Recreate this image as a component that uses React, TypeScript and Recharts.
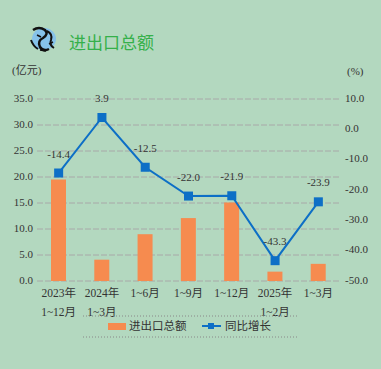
import React from "react";
import { ComposedChart, Bar, Line, XAxis, YAxis, CartesianGrid, LabelList } from "recharts";

const categories = ["2023年\n1~12月", "2024年\n1~3月", "1~6月", "1~9月", "1~12月", "2025年\n1~2月", "1~3月"];
const totalValues = [19.5, 4.1, 9.0, 12.1, 15.1, 1.8, 3.3];
const growthValues = [-14.4, 3.9, -12.5, -22.0, -21.9, -43.3, -23.9];
const leftTicks = [0, 5, 10, 15, 20, 25, 30, 35];
const rightTicks = [-50, -40, -30, -20, -10, 0, 10];

const data = categories.map((c, i) => ({ name: c, total: totalValues[i], growth: growthValues[i] }));

const BG = "#b3d8bf";
const BAR = "#f68b4f";
const LINE = "#0d6fc6";
const FONT = "Liberation Serif, Noto Sans CJK SC, serif";
const TXT = "#333";

const XTick = (props: any) => {
  const { x, y, payload } = props;
  const lines = String(payload.value).split("\n");
  return (
    <g>
      {lines.map((l: string, i: number) => (
        <text key={i} x={x} y={y + 5 + i * 19} textAnchor="middle" dominantBaseline="middle" fontSize={11.5} fill={TXT} fontFamily={FONT}>
          {l}
        </text>
      ))}
    </g>
  );
};

const LeftTick = (props: any) => {
  const { y, payload } = props;
  return (
    <text x={33} y={y} textAnchor="end" dominantBaseline="middle" fontSize={11} fill={TXT} fontFamily={FONT}>
      {Number(payload.value).toFixed(1)}
    </text>
  );
};

const RightTick = (props: any) => {
  const { y, payload } = props;
  return (
    <text x={345} y={y} textAnchor="start" dominantBaseline="middle" fontSize={11} fill={TXT} fontFamily={FONT}>
      {Number(payload.value).toFixed(1)}
    </text>
  );
};

const SquareDot = (props: any) => {
  const { cx, cy, index } = props;
  if (cx == null || cy == null) return <g key={index} />;
  return <rect key={index} x={cx - 4.5} y={cy - 4.5} width={9} height={9} fill={LINE} />;
};

const GrowthLabel = (props: any) => {
  const { x, y, value } = props;
  return (
    <text x={x} y={y - 18} textAnchor="middle" dominantBaseline="middle" fontSize={11} fill={TXT} fontFamily={FONT}>
      {Number(value).toFixed(1)}
    </text>
  );
};

export default function App() {
  return (
    <div style={{ position: "fixed", left: 0, top: 0, width: 381, height: 369, background: BG, overflow: "hidden" }}>
      <ComposedChart width={381} height={369} data={data} margin={{ top: 99, right: 0, bottom: 48, left: 0 }}>
        <CartesianGrid horizontal vertical={false} stroke="#a8a8a8" strokeDasharray="6 2" yAxisId="left" />
        <XAxis dataKey="name" tick={<XTick />} tickLine={false} axisLine={false} interval={0} height={40} />
        <YAxis yAxisId="left" orientation="left" width={37} domain={[0, 35]} ticks={leftTicks} tick={<LeftTick />} tickLine={false} axisLine={false} />
        <YAxis yAxisId="right" orientation="right" width={41} domain={[-50, 10]} ticks={rightTicks} tick={<RightTick />} tickLine={false} axisLine={false} />
        <Bar yAxisId="left" dataKey="total" fill={BAR} barSize={15} isAnimationActive={false} />
        <Line yAxisId="right" dataKey="growth" stroke={LINE} strokeWidth={2} dot={<SquareDot />} activeDot={false} isAnimationActive={false}>
          <LabelList dataKey="growth" content={<GrowthLabel />} />
        </Line>
      </ComposedChart>
      <svg width={381} height={369} style={{ position: "absolute", left: 0, top: 0, pointerEvents: "none" }}>
        <g>
          <ellipse cx={44} cy={39} rx={12} ry={11} fill="#86c2ea" />
          <path d="M33 30 q6 -4 12 0 q4 4 -2 8 q-6 3 -3 9 q3 5 9 2" stroke="#111" strokeWidth={2.5} fill="none" />
          <path d="M47 31 q6 3 4 9 q-2 5 3 8" stroke="#111" strokeWidth={2} fill="none" />
          <path d="M31 40 q2 6 7 9" stroke="#111" strokeWidth={2} fill="none" />
          <path d="M37 35 l4 2 M49 44 l4 -2 M40 50 l6 1" stroke="#111" strokeWidth={1.5} fill="none" />
        </g>
        <text x={69} y={44} dominantBaseline="middle" fontSize={17} fill="#35b04a" fontFamily="Noto Sans CJK SC, sans-serif">
          进出口总额
        </text>
        <text x={12} y={71} dominantBaseline="middle" fontSize={11} fill={TXT} fontFamily={FONT}>
          (亿元)
        </text>
        <text x={347} y={72} dominantBaseline="middle" fontSize={11} fill={TXT} fontFamily={FONT}>
          (%)
        </text>
        <line x1={83} x2={297} y1={316} y2={316} stroke="#888" strokeDasharray="1 2" />
        <line x1={83} x2={297} y1={337} y2={337} stroke="#888" strokeDasharray="1 2" />
        <rect x={108} y={323} width={18} height={7} fill={BAR} />
        <text x={129} y={327} dominantBaseline="middle" fontSize={11.5} fill={TXT} fontFamily={FONT}>
          进出口总额
        </text>
        <line x1={202} x2={221} y1={326} y2={326} stroke={LINE} strokeWidth={2} />
        <rect x={208} y={323} width={6} height={6} fill={LINE} />
        <text x={225} y={327} dominantBaseline="middle" fontSize={11.5} fill={TXT} fontFamily={FONT}>
          同比增长
        </text>
      </svg>
    </div>
  );
}
